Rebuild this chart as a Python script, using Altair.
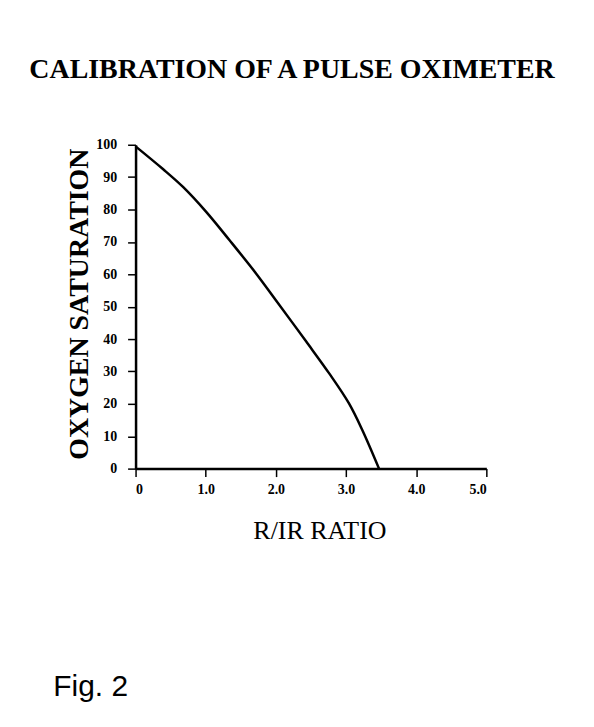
import altair as alt
import pandas as pd

# curve data
ratio = [0.0, 0.39, 0.68, 1.01, 1.34, 1.72, 2.0, 2.43, 2.76, 3.04, 3.23, 3.47]
saturation = [99.5, 92.5, 86.9, 79.2, 70.5, 60.2, 52.0, 39.3, 29.4, 20.2, 12.0, 0.0]

x_ticks = [0, 1, 2, 3, 4, 5]
y_ticks = [0, 10, 20, 30, 40, 50, 60, 70, 80, 90, 100]

title_text = "CALIBRATION OF A PULSE OXIMETER"
x_title = "R/IR RATIO"
y_title = "OXYGEN SATURATION"
fig_label = "Fig. 2"

df = pd.DataFrame({"ratio": ratio, "sat": saturation})

W, H = 352, 325
SERIF = "Liberation Serif"

x_enc = alt.X(
    "ratio:Q",
    scale=alt.Scale(domain=[0, 5], nice=False),
    axis=alt.Axis(
        values=x_ticks,
        labelExpr="datum.value == 0 ? '0' : format(datum.value, '.1f')",
        title=None,
        grid=False,
        domainColor="black",
        domainWidth=2.5,
        tickColor="black",
        tickWidth=1.5,
        tickSize=8,
        labelFont=SERIF,
        labelFontSize=14,
        labelFontWeight="bold",
        labelColor="black",
        labelPadding=6,
    ),
)
y_enc = alt.Y(
    "sat:Q",
    scale=alt.Scale(domain=[0, 100], nice=False),
    axis=alt.Axis(
        values=y_ticks,
        title=None,
        grid=False,
        domainColor="black",
        domainWidth=2.5,
        tickColor="black",
        tickWidth=1.5,
        tickSize=8,
        labelFont=SERIF,
        labelFontSize=14,
        labelFontWeight="bold",
        labelColor="black",
        labelPadding=11,
    ),
)

curve = alt.Chart(df).mark_line(
    color="black", strokeWidth=2.5, clip=False, interpolate="catmull-rom"
).encode(x=x_enc, y=y_enc)

def label(text, x, y, size, font=SERIF, weight="normal", angle=0, baseline="alphabetic"):
    return alt.Chart(pd.DataFrame({"t": [text]})).mark_text(
        font=font,
        fontSize=size,
        fontWeight=weight,
        color="black",
        align="center",
        baseline=baseline,
        angle=angle,
    ).encode(text="t:N", x=alt.value(x), y=alt.value(y))

title = label(title_text, 157, -67, 28, weight="bold")
xt = label(x_title, 185, 396, 26)
yt = label(y_title, -56, 160, 28, weight="bold", angle=270, baseline="middle")
fig = label(fig_label, -45, 553, 30, font="Liberation Sans")

chart = alt.layer(curve, title, xt, yt, fig).properties(
    width=W,
    height=H,
    padding={"left": 128, "top": 136, "right": 100, "bottom": 240},
    autosize=alt.AutoSizeParams(type="none"),
    background="white",
).configure_view(stroke=None)

chart.save("out.html", embed_options={"renderer": "svg", "actions": False})
